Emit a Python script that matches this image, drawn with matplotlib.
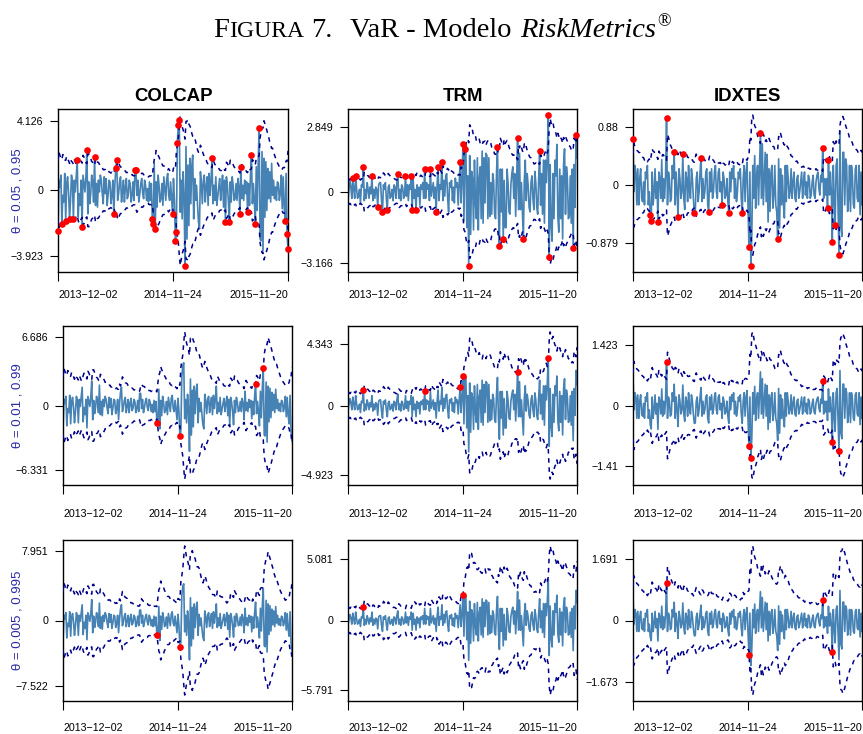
import numpy as np
import matplotlib
matplotlib.use("Agg")
import matplotlib.pyplot as plt

W, H = 863, 734

assets = ["COLCAP", "TRM", "IDXTES"]
theta_labels = ["θ = 0.05 , 0.95", "θ = 0.01 , 0.99", "θ = 0.005 , 0.995"]
date_labels = ["2013−12−02", "2014−11−24", "2015−11−20"]

# standardized t(6) quantiles for the three confidence levels
q_levels = [1.587, 2.566, 3.027]
lam = 0.82

# y tick values (band min / max per panel)
ticks_hi = [[4.126, 2.849, 0.88], [6.686, 4.343, 1.423], [7.951, 5.081, 1.691]]
ticks_lo = [[-3.923, -3.166, -0.879], [-6.331, -4.923, -1.41], [-7.522, -5.791, -1.673]]

sigma0 = [1.1, 0.35, 0.3]

colcap = [
    -2.4, 0.6, 0.2, 0.9, -2.0, -0.3, -0.7, 1.0, -1.8, 0.4, 0.8, -0.2, -1.7, -0.6, 0.9, 0.5, -1.7, 0.6, -0.1, 0.8,
    1.8, -1.6, -0.2, -0.9, 0.6, -2.2, 0.9, 0.4, -0.1, 0.8, 2.4, -1.4, 0.5, -0.8, -0.2, 0.9, 0.5, -0.7, 2.0, -0.9,
    0.4, -1.0, 0.6, -0.1, 0.9, 0.6, -0.2, -0.8, 0.8, -0.2, 0.7, -0.9, -0.3, 0.6, 0.5, -0.8, -0.3, 0.6, -1.4, 0.2,
    1.3, 1.8, -0.6, -0.2, 0.5, 0.8, -0.7, -0.1, 0.6, -0.7, 0.2, 0.7, -0.5, -0.3, 0.6, 0.4, -0.7, -0.3, 0.5, -0.6,
    1.2, 1.2, -0.3, 0.6, -0.7, -0.2, 0.4, 0.7, -0.2, -0.5, 0.6, 0.3, -0.6, 0.1, -0.7, 0.5, -0.6, 0.4, -1.7, -2.0,
    1.6, -2.3, 0.5, -1.0, 0.9, 0.3, -0.7, -0.5, 0.4, -0.9, 0.8, 0.1, -0.6, 0.7, 1.0, -0.3, -0.6, 0.5, -0.4, -1.4,
    0.7, -0.6, -3.0, -2.5, 2.8, 3.9, 4.2, -1.3, 0.6, -1.7, 1.1, -0.4, -4.5, 2.6, -2.9, 1.5, -2.1, 1.9, -0.8, 1.4,
    2.1, -1.7, 0.7, -0.6, 0.3, -0.9, -1.9, -2.3, 1.1, 0.4, -0.8, 0.6, 0.9, -0.7, 0.2, 0.8, -0.9, 1.0, -0.3, 0.6,
    1.9, -0.8, 0.3, -0.6, 0.8, -0.9, -0.4, 0.2, 0.7, -0.6, 0.2, 0.9, -1.0, 0.6, -1.9, 0.8, 0.3, -0.6, -1.9, 0.5,
    -0.7, 0.8, 0.3, -0.6, -0.5, 0.4, -0.6, 0.7, 0.2, -1.4, 1.4, -0.5, 0.3, -0.6, 0.6, -0.2, 0.5, -1.3, 0.4, -0.9,
    0.9, 2.1, -0.8, 0.4, -0.6, -2.0, 1.4, -1.2, 1.6, 3.7, -2.9, -3.0, 2.3, -3.6, 1.9, -1.6, 1.7, -1.2, 1.3, -0.5,
    1.1, -0.7, 1.6, -0.3, 0.6, -0.5, 0.2, -0.6, 0.5, 0.4, -0.6, -0.2, 0.9, -1.1, 0.8, -1.0, -1.8, 1.0, -2.6, -3.5,
]

trm = [
    -0.4, 0.1, 0.5, 0.2, -0.3, 0.6, 0.1, -0.3, 0.7, 0.1, -0.3, -0.2, 0.1, -0.5, 0.3, 0.2, 1.1, -0.4, 0.1, -0.3,
    0.4, 0.1, -0.3, 0.2, -0.1, 0.7, -0.4, 0.1, -0.3, 0.2, 0.1, -0.7, 0.3, 0.4, 0.4, -0.4, -0.9, 0.3, 0.1, 0.4,
    -0.3, -0.8, 0.2, 0.3, -0.3, -0.2, 0.1, -0.4, 0.3, 0.2, -0.3, 0.4, 0.8, -0.3, 0.1, -0.4, 0.3, 0.2, -0.3, -0.2,
    0.7, -0.2, 0.3, -0.4, 0.3, 0.1, 0.7, -0.8, 0.6, -0.3, 0.1, -0.8, 0.3, -0.2, 0.2, -0.6, 0.3, 0.1, 0.4, -0.3,
    1.0, -0.3, 0.4, 0.1, 0.3, -0.4, 1.0, -0.2, 0.1, 0.4, -0.3, 0.2, -0.9, 0.3, 1.1, -0.4, 0.3, 0.1, 1.3, -0.4,
    0.5, -0.2, 0.7, 0.8, -0.3, -0.9, 0.4, 0.2, 0.5, -0.4, 0.2, -0.5, 0.6, 0.2, 0.4, -0.6, 0.3, 1.3, -0.5, 0.6,
    2.1, -1.3, 1.9, 2.0, -1.6, 0.7, -3.3, 1.6, -1.9, 0.9, 0.6, -1.7, 1.4, -0.5, -1.2, 1.5, -1.7, 0.6, 1.1, -1.2,
    1.8, -1.4, 1.5, -0.5, 1.7, 1.6, -1.2, 1.5, -1.1, 0.4, -1.0, 0.8, 0.5, -1.0, -1.2, 0.8, 2.0, -0.9, -2.4, 1.0,
    -0.9, 1.0, -2.1, 0.5, -1.6, -1.6, 1.0, 0.4, -0.9, -1.0, 0.3, 0.8, 1.1, -0.3, 0.8, -1.1, 0.5, 2.4, -0.8, 1.7,
    -0.8, 0.4, -0.9, -2.1, 0.5, 1.4, -0.4, 0.8, 0.3, -0.7, -0.9, 0.4, 0.7, -0.3, -0.8, 0.9, 0.4, -0.7, -1.0, 0.6,
    1.8, -0.6, 0.8, -1.0, 1.4, -1.4, 1.4, 0.4, 1.6, 3.4, -2.9, 1.2, -1.5, -2.2, 0.8, -1.2, 1.4, 0.7, 2.1, -1.1,
    -1.8, 1.0, -1.2, 0.7, -2.1, 1.2, 1.9, -1.0, 1.1, 0.6, -1.2, -1.1, 0.7, -1.4, 1.0, -2.5, 1.2, -0.7, 2.5, 1.5,
]

idxtes = [
    0.7, -0.1, 0.3, 0.2, -0.3, 0.25, -0.3, 0.1, 0.25, -0.2, -0.25, 0.05, -0.3, 0.2, 0.1, 0.3, -0.3, -0.1, -0.45, -0.55,
    0.2, -0.3, -0.1, 0.25, -0.2, 0.05, -0.56, 0.2, 0.1, -0.2, 0.39, -0.25, 0.1, -0.2, 0.15, 1.03, -0.3, 0.2, 0.1, -0.25,
    -0.2, 0.3, 0.1, 0.5, -0.3, 0.2, -0.1, -0.49, 0.25, 0.1, -0.2, -0.1, 0.48, -0.2, -0.37, 0.2, 0.1, -0.25, 0.3, -0.1,
    -0.2, 0.25, 0.1, -0.2, -0.42, -0.41, 0.1, 0.2, -0.25, -0.1, 0.2, 0.42, -0.25, 0.1, -0.2, -0.1, 0.2, 0.25, -0.3, -0.41,
    0.2, -0.1, 0.25, -0.2, -0.1, 0.2, 0.3, -0.1, -0.2, 0.2, 0.25, -0.1, 0.05, -0.3, 0.2, 0.1, -0.2, -0.15, 0.1, -0.25,
    -0.42, 0.2, -0.1, 0.25, 0.1, 0.3, -0.2, 0.1, -0.25, -0.1, 0.2, 0.1, 0.25, -0.2, -0.42, 0.1, 0.3, -0.25, 0.2, 0.35,
    -0.3, -0.94, 0.2, -1.23, -0.76, 0.3, -0.2, 0.45, -0.35, 0.15, 0.3, -0.3, 0.25, 0.79, -0.2, 0.63, -0.3, 0.1, 0.5, -0.25,
    0.47, -0.56, 0.25, -0.4, 0.2, 0.3, -0.35, -0.15, 0.3, -0.3, -0.41, -0.82, 0.4, -0.65, 0.25, -0.3, 0.15, -0.3, -0.5, 0.3,
    -0.25, 0.3, 0.1, -0.2, -0.1, 0.25, -0.2, 0.05, 0.2, -0.2, -0.25, 0.1, 0.15, -0.2, -0.1, 0.05, 0.2, -0.2, 0.05, 0.2,
    -0.15, 0.05, -0.2, 0.15, 0.1, -0.2, -0.15, 0.05, 0.15, -0.15, -0.2, 0.05, 0.15, 0.2, -0.05, -0.15, 0.15, 0.05, 0.57, -0.2,
    0.1, -0.15, 0.1, -0.35, 0.39, -0.15, 0.2, -0.1, -0.86, 0.3, -0.2, -0.61, 0.3, 0.4, -0.3, -1.07, 0.82, -0.65, -0.78, 0.5,
    0.5, -0.3, 0.4, 0.3, -0.4, -0.2, 0.3, -0.4, 0.3, 0.15, -0.3, -0.35, 0.25, 0.3, -0.2, -0.25, 0.3, -0.45, 0.2, -0.3,
]

series = [colcap, trm, idxtes]

# panel boxes in pixels (left, right) per row / column, (top, bottom) per row
col_px = [[(58, 288), (348, 577), (633, 862)],
          [(63, 292), (348, 577), (633, 862)],
          [(63, 292), (348, 577), (633, 862)]]
row_px = [(109, 272), (326, 485), (540, 701)]
xlab_off = [23, 29, 27]

c_ret = "#4682B4"
c_var = "#00008B"
c_lab = "#2a2aa8"

plt.rcParams["font.family"] = ["Liberation Sans", "DejaVu Sans"]


def ewma_sigma(r, s0):
    s2 = np.empty(len(r))
    s2[0] = s0 ** 2
    for t in range(1, len(r)):
        s2[t] = lam * s2[t - 1] + (1 - lam) * r[t - 1] ** 2
    return np.sqrt(s2)


def fmt(v):
    return f"{v:g}".replace("-", "−")


fig = plt.figure(figsize=(W / 100, H / 100), dpi=100)

for i in range(3):
    y0, y1 = row_px[i]
    for j in range(3):
        x0, x1 = col_px[i][j]
        ax = fig.add_axes([x0 / W, 1 - y1 / H, (x1 - x0) / W, (y1 - y0) / H])
        r = np.array(series[j])
        n = len(r)
        x = np.arange(n)
        sig = ewma_sigma(r, sigma0[j])
        up = q_levels[i] * sig
        lo = -q_levels[i] * sig

        ax.plot(x, r, color=c_ret, lw=1.2, zorder=2)
        ax.plot(x, up, color=c_var, lw=1.1, ls=(0, (3, 3)), zorder=3)
        ax.plot(x, lo, color=c_var, lw=1.1, ls=(0, (3, 3)), zorder=3)
        hit = (r > up) | (r < lo)
        ax.plot(x[hit], r[hit], "o", color="red", ms=4.8, mec="none", zorder=4, clip_on=False)

        dmin = min(r.min(), lo.min(), ticks_lo[i][j])
        dmax = max(r.max(), up.max(), ticks_hi[i][j])
        pad = 0.04 * (dmax - dmin)
        ax.set_ylim(dmin - pad, dmax + pad)
        ax.set_xlim(0, n - 1)

        yt = [ticks_lo[i][j], 0, ticks_hi[i][j]]
        ax.set_yticks(yt)
        ax.set_yticklabels([fmt(v) for v in yt])
        ax.set_xticks([0, (n - 1) / 2, n - 1])
        ax.set_xticklabels([])
        ax.tick_params(axis="y", direction="out", length=5.8, width=0.8, pad=5, labelsize=7.7)
        ax.tick_params(axis="x", direction="out", length=6.5, width=0.8)
        for sp in ax.spines.values():
            sp.set_linewidth(1.0)

        for k, (fx, ha) in enumerate([(0, "left"), (0.5, "center"), (1, "right")]):
            ax.annotate(date_labels[k], xy=(fx, 0), xycoords="axes fraction",
                        xytext=(0, -xlab_off[i] * 0.72), textcoords="offset points",
                        ha=ha, va="center", fontsize=7.7)

        if i == 0:
            fig.text((x0 + x1) / 2 / W, 1 - 100.7 / H, assets[j], ha="center",
                     va="baseline", fontsize=13.4, fontweight="bold")

    fig.text(18 / W, 1 - (y0 + y1) / 2 / H, theta_labels[i], rotation=90,
             ha="center", va="center", fontsize=9.5, color=c_lab)

# title with small caps and italic part
rend = fig.canvas.get_renderer()
tx = 213 / W
ty = 1 - 37 / H
parts = [("F", 20.5, "normal", 0, 0), ("IGURA", 17.0, "normal", 0, 0),
         ("7.", 20.5, "normal", 7, 0), ("VaR - Modelo", 20.5, "normal", 18, 0),
         ("RiskMetrics", 20.5, "italic", 8, 0), ("®", 13, "normal", 1, 11)]
for s, size, style, gap, rise in parts:
    tx += gap / W
    t = fig.text(tx, ty + rise / H, s, fontsize=size, style=style,
                 family=["Liberation Serif", "DejaVu Serif"], ha="left", va="baseline")
    tx += t.get_window_extent(renderer=rend).width / W

fig.savefig("out.png", dpi=100)
